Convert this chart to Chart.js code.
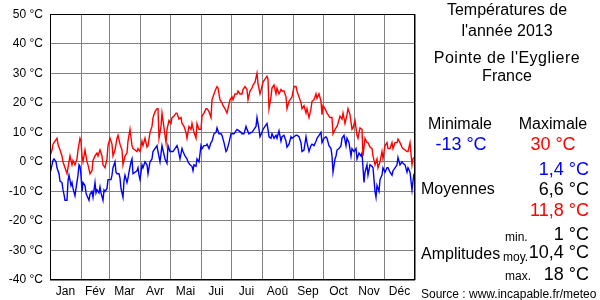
<!DOCTYPE html>
<html>
<head>
<meta charset="utf-8">
<script src="https://cdn.jsdelivr.net/npm/chart.js@4/dist/chart.umd.min.js"></script>
<style>
  body { margin: 0; background: #fff; }
  #wrap { position: relative; width: 600px; height: 300px; font-family: "Liberation Sans", Arial, sans-serif; }
  #wrap canvas { position: absolute; left: 0; top: 0; }
  .t { position: absolute; line-height: 1; white-space: nowrap; transform: translateY(-50%); color: #000; }
  .c { transform: translate(-50%, -50%); }
  .r { text-align: right; }
  .f16 { font-size: 16px; }
  .f18 { font-size: 18px; }
  .f12 { font-size: 12px; }
  .blue { color: #0000ff; }
  .red { color: #ff0000; }
</style>
</head>
<body>
<div id="wrap">
  <canvas id="temps" width="600" height="300"></canvas>

  <div class="t c f16" style="left:507px; top:10px">Températures de</div>
  <div class="t c f16" style="left:507px; top:31px">l'année 2013</div>
  <div class="t c f16" style="left:507px; top:58px; letter-spacing:0.5px">Pointe de l'Eygliere</div>
  <div class="t c f16" style="left:507px; top:76px">France</div>

  <div class="t c f16" style="left:460px; top:124px">Minimale</div>
  <div class="t c f16" style="left:553px; top:124px">Maximale</div>
  <div class="t c f18 blue" style="left:461px; top:144px">-13 °C</div>
  <div class="t c f18 red" style="left:553px; top:144px">30 °C</div>

  <div class="t r f18 blue" style="right:11px; top:169px">1,4 °C</div>
  <div class="t f16" style="left:421px; top:189px">Moyennes</div>
  <div class="t r f18" style="right:11px; top:189px">6,6 °C</div>
  <div class="t r f18 red" style="right:11px; top:210px">11,8 °C</div>

  <div class="t f12" style="left:505px; top:237px">min.</div>
  <div class="t r f18" style="right:11px; top:234px">1 °C</div>
  <div class="t f16" style="left:421px; top:254px">Amplitudes</div>
  <div class="t f12" style="left:503px; top:257px">moy.</div>
  <div class="t r f18" style="right:11px; top:252px">10,4 °C</div>
  <div class="t f12" style="left:505px; top:276px">max.</div>
  <div class="t r f18" style="right:11px; top:274px">18 °C</div>

  <div class="t f12" style="left:421px; top:294px">Source : www.incapable.fr/meteo</div>
</div>

<script>
// jours de l'annee (0 = 1er janvier) et temperatures
var maxDays = [0,2,3,5,7,8,10,12,13,15,17,18,20,22,23,25,27,28,30,31,32,33,35,37,38,40,42,43,45,47,48,50,52,53,55,57,58,
  60,62,63,65,67,68,70,72,73,75,77,78,80,82,83,85,87,88,90,92,93,95,97,98,100,102,103,105,107,108,109,111,112,114,116,117,119,
  121,122,124,126,127,129,131,132,134,136,137,139,141,142,144,146,147,149,151,152,154,156,157,159,161,162,163,165,167,168,170,
  172,173,175,177,178,180,182,183,185,187,188,190,192,193,195,197,198,200,202,203,205,207,208,210,212,213,215,217,218,219,
  221,222,224,226,227,229,231,232,234,236,237,239,241,242,244,246,247,249,251,252,254,256,257,259,261,262,264,266,267,269,
  271,272,273,275,277,278,280,282,283,285,287,288,290,292,293,295,297,298,300,302,303,305,307,308,310,312,313,315,317,318,
  320,322,323,325,327,328,330,332,333,335,337,338,340,342,343,345,347,348,350,352,353,355,357,358,360,362,363,364];
var maxVals = [2,4,6,7,8,6,4,2,0,-2,-4,-2,2,-1,0.5,-1,1,4,8,7,2,0,4,0,-1,-4,-3,0.5,2,3,2,4,2,-1,-2,1,5.5,
  8,6,2,4,8,9,6,4,-1,2,3,7,11,5.5,4.5,4,3.5,4.5,3.5,7,5.5,8,5,5.5,10,12,15,17,18,18,8,12,16.5,11.5,6.5,11,14,
  13,15,15.5,16.5,16.5,14.5,15,13,12,10,8,12,11,13,10,8,13,11,11,15.5,16.5,18,18,17,15,21,22,24,25.5,25,21,
  20,19,18,16.5,18,21,22,21,23,23,24,23,23,24.5,25.5,24.5,21,24,25,26,27,30,26.5,23,25.5,27,28,29,28,18,
  22,25,26,23,25,23,24.5,24,24,22,18,20.5,21.5,22,25.5,25.5,24,22,20,18,19,16.5,18,15,18,20.5,21,23,21.5,23,
  20.5,16,19,18,16.5,16,15,15,9.5,11,12,13,15.5,14.5,16.5,13,16,18,16,11,11.5,14,9,8,11.5,11,2,8,6.5,6.5,
  5,4.5,2,-1,1,-2,0,3.5,1,5.5,6.5,4.5,4.5,6.5,4.5,6.5,6.5,7.7,6.5,5,4.5,4,3.5,3.5,6.5,-1,1,1.5];

var minDays = [0,2,3,4,6,7,9,10,12,13,14,15,17,18,19,21,22,23,25,26,28,29,30,31,32,33,35,36,37,39,40,42,43,45,46,47,49,50,
  51,53,54,55,57,58,59,61,62,63,65,66,67,69,70,71,73,74,75,77,78,79,81,82,83,85,87,88,89,90,92,93,95,97,98,100,102,103,105,
  107,108,110,112,113,115,117,118,120,122,123,125,127,128,130,132,133,135,137,138,140,142,143,144,146,147,149,151,152,154,
  156,157,159,161,162,164,166,167,169,171,172,174,176,177,179,181,182,184,186,187,189,191,192,194,196,197,199,201,202,204,
  206,207,209,210,212,213,215,217,218,219,221,222,224,226,227,229,231,232,234,236,237,239,241,242,244,246,247,249,251,252,
  254,256,257,259,261,262,264,266,267,269,271,272,274,276,277,279,281,282,283,285,286,287,289,291,292,294,296,297,299,301,
  302,304,306,307,309,311,312,314,315,317,318,320,322,323,325,326,327,329,330,332,333,335,337,338,340,342,343,345,347,348,
  350,352,353,355,357,358,360,362,363,364];
var minVals = [-4,-1,0.5,1,0,-2,-4,-6.5,-7,-9.5,-11,-13,-13,-6.5,-4.5,-8,-7,-9,-11.5,-9,-4.5,-1,-1.5,-4.5,-10,-7,-8,-10.5,
  -11.5,-13,-11,-10,-12,-7,-10.5,-9.5,-10.5,-8.5,-10.5,-13,-9.5,-10,-9,-6,-6,-6,-4.5,-2,0,-3.5,-4,-4,-5.5,-9,-12,-6.5,-4.5,
  -7,-5.5,-3.5,0,1,-4,-3.5,-3,-2,-4.5,-6,-1,-2,0,-1,-4,0,1,3.5,4.5,5.5,3.5,0,5.5,4,1,-0.5,5.5,3.5,3.5,3.5,4.5,5.5,4.5,
  1,4.5,3.5,2,1,0,-1,-1.5,-3,-1,-1.5,1,0,5.5,4.5,5.5,5.5,6,4.5,6.5,7,9.5,10,11.5,9.5,9.5,9,6.5,3.5,4,6.5,9.5,9.5,9.5,
  10.5,11,10.5,10,9.5,9.5,12,11,9.5,10,10,11,12,15,11,8.5,10,11,12,13,11,8.5,8,9.5,8,9,8,10.5,7,8.5,9,7,5,6,8.5,8,
  8.5,9,9,8.5,6.5,3.5,4,8.5,6.5,3.5,5.5,6,5.5,7,8,9,10,6.5,8,8.5,8,5.5,4.5,2,-3.5,1,2,4,4.5,5.5,8,9,5.5,8,6.5,2,
  4.5,3.5,4.5,1,3,2,3,-7,-3.5,-1,-4.5,-1,-1.5,-2,-10,-12,-8,-10,-6,-4.5,-2,-3.5,-2,-2,-3.5,-4.5,-3,-2,-1,1.5,
  -1,0,-0.5,-1,-3.5,-2,-3.5,-9.5,-6.5,-4];

// graduations
var monthStarts = [0, 31, 59, 90, 120, 151, 181, 212, 243, 273, 304, 334, 365];
var monthLabels = ['Jan', 'Fév', 'Mar', 'Avr', 'Mai', 'Jui', 'Jui', 'Aoû', 'Sep', 'Oct', 'Nov', 'Déc'];
var tempTicks = [-40, -30, -20, -10, 0, 10, 20, 30, 40, 50];

var monthMids = monthLabels.map(function(m, i) { return (monthStarts[i] + monthStarts[i + 1]) / 2; });

function points(days, vals) {
  return days.map(function(d, i) { return { x: d, y: vals[i] }; });
}

var frame = {
  id: 'frame',
  afterDatasetsDraw: function(chart) {
    var a = chart.chartArea, ctx = chart.ctx;
    ctx.save();
    ctx.strokeStyle = '#000';
    ctx.lineWidth = 1;
    ctx.strokeRect(Math.round(a.left) + 0.5, Math.round(a.top) + 0.5,
      Math.round(a.right - a.left) - 1, Math.round(a.bottom - a.top) - 1);
    ctx.restore();
  }
};

Chart.defaults.font.family = '"Liberation Sans", Arial, sans-serif';
Chart.defaults.font.size = 12;
Chart.defaults.color = '#000';

new Chart(document.getElementById('temps'), {
  type: 'line',
  data: {
    datasets: [{
      label: 'Maximales',
      data: points(maxDays, maxVals),
      borderColor: '#ff0000',
      borderWidth: 1.4,
      pointRadius: 0,
      tension: 0
    }, {
      label: 'Minimales',
      data: points(minDays, minVals),
      borderColor: '#0000ff',
      borderWidth: 1.4,
      pointRadius: 0,
      tension: 0
    }]
  },
  options: {
    responsive: false,
    animation: false,
    layout: { padding: { top: 10, right: 185, left: 0, bottom: 0 } },
    plugins: { legend: { display: false }, tooltip: { enabled: false } },
    scales: {
      x: {
        type: 'linear',
        min: 0,
        max: 365,
        afterBuildTicks: function(axis) {
          axis.ticks = monthStarts.concat(monthMids).sort(function(a, b) { return a - b; })
            .map(function(v) { return { value: v }; });
        },
        afterFit: function(axis) { axis.height = 20; },
        grid: {
          drawTicks: false,
          color: function(ctx) {
            return ctx.tick && monthStarts.indexOf(ctx.tick.value) >= 0 ? '#808080' : 'rgba(0,0,0,0)';
          }
        },
        border: { display: false },
        ticks: {
          autoSkip: false,
          maxRotation: 0,
          padding: 4,
          callback: function(v) {
            var i = monthMids.indexOf(v);
            return i >= 0 ? monthLabels[i] : '';
          }
        }
      },
      y: {
        min: -40,
        max: 50,
        afterBuildTicks: function(axis) {
          axis.ticks = tempTicks.map(function(v) { return { value: v }; });
        },
        afterFit: function(axis) { axis.width = 50; },
        grid: { drawTicks: false, color: '#808080' },
        border: { display: false },
        ticks: {
          padding: 7,
          callback: function(v) { return v + ' °C'; }
        }
      }
    }
  },
  plugins: [frame]
});
</script>
</body>
</html>
